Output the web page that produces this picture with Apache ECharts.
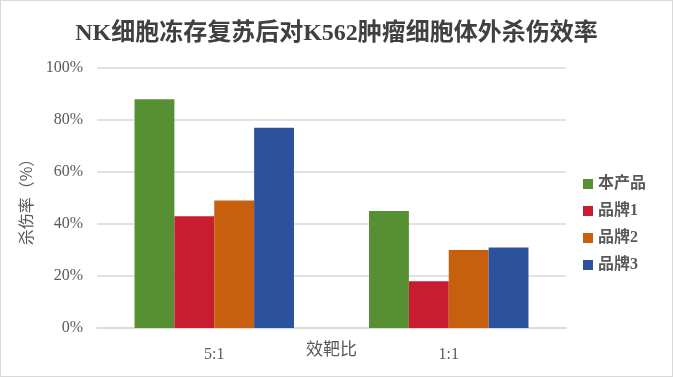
<!DOCTYPE html>
<html>
<head>
<meta charset="utf-8">
<script src="https://cdn.jsdelivr.net/npm/echarts@6/dist/echarts.min.js"></script>
<style>
	html, body {margin:0; padding:0; background:#fff;}
	#chart {position:absolute; left:0; top:0; width:671px; height:375px; border:1px solid #d9d9d9;}
</style>
</head>
<body>
<div id="chart"></div>
<script>
var categories = ['5:1', '1:1'];
var seriesNames = ['本产品', '品牌1', '品牌2', '品牌3'];
var ourProduct = [88, 45];
var brand1 = [43, 18];
var brand2 = [49, 30];
var brand3 = [77, 31];
var yTicks = [0, 20, 40, 60, 80, 100];

var colors = ['#578f33', '#c81d31', '#c6600f', '#2c529e'];
var labelColor = '#595959';
var serifFont = '"Liberation Serif", "Noto Sans CJK SC", serif';

var myChart = echarts.init(document.getElementById('chart'));
var allData = [ourProduct, brand1, brand2, brand3];
var series = [];
for (var i = 0; i < seriesNames.length; i++) {
	series.push({
		name: seriesNames[i],
		type: 'bar',
		barGap: '0%',
		barCategoryGap: '32%',
		itemStyle: {color: colors[i]},
		data: allData[i]
	});
}

var option = {
	animation: false,
	title: {
		text: 'NK细胞冻存复苏后对K562肿瘤细胞体外杀伤效率',
		left: 'center',
		top: 16,
		textStyle: {
			fontFamily: serifFont,
			fontSize: 24,
			fontWeight: 'bold',
			color: '#404040'
		}
	},
	color: colors,
	legend: {
		orient: 'vertical',
		left: 577,
		top: 170,
		itemWidth: 10,
		itemHeight: 10,
		itemGap: 11,
		icon: 'rect',
		textStyle: {
			fontFamily: serifFont,
			fontSize: 16,
			fontWeight: 'bold',
			color: labelColor
		},
		data: seriesNames
	},
	grid: {
		left: 96,
		right: 106,
		top: 67,
		bottom: 48,
		containLabel: false,
		outerBoundsMode: 'none'
	},
	xAxis: {
		type: 'category',
		data: categories,
		name: '效靶比',
		nameLocation: 'middle',
		nameGap: 14,
		nameMoveOverlap: false,
		nameTextStyle: {
			fontFamily: serifFont,
			fontSize: 17,
			color: labelColor,
			verticalAlign: 'top'
		},
		axisTick: {show: false},
		axisLine: {lineStyle: {color: '#d9d9d9', width: 1.5}},
		axisLabel: {
			margin: 19,
			fontFamily: serifFont,
			fontSize: 16,
			color: labelColor
		}
	},
	yAxis: {
		type: 'value',
		min: yTicks[0],
		max: yTicks[yTicks.length - 1],
		interval: yTicks[1] - yTicks[0],
		name: '杀伤率（%）',
		nameLocation: 'middle',
		nameGap: 63,
		nameRotate: 90,
		nameTextStyle: {
			fontFamily: '"Noto Sans CJK SC", sans-serif',
			fontSize: 16,
			color: labelColor
		},
		axisLine: {show: false},
		axisTick: {show: false},
		splitLine: {lineStyle: {color: '#d9d9d9', width: 1.5}},
		axisLabel: {
			margin: 14,
			fontFamily: serifFont,
			fontSize: 16,
			color: labelColor,
			formatter: '{value}%'
		}
	},
	series: series
};
myChart.setOption(option);
</script>
</body>
</html>
